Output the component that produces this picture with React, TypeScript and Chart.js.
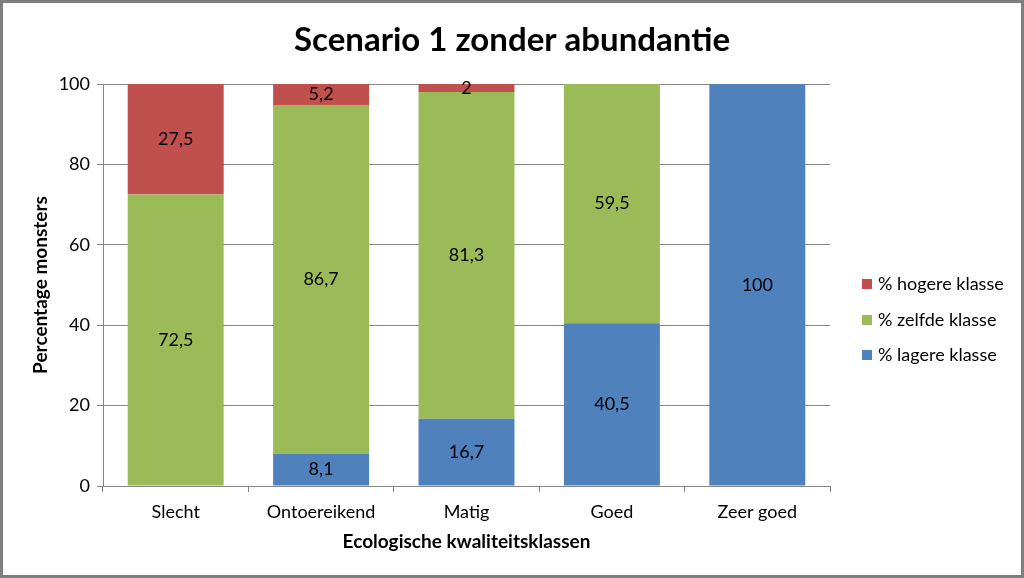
import React, { useEffect, useRef } from "react";
import { Chart, registerables } from "chart.js";

Chart.register(...registerables);

const TITLE = "Scenario 1 zonder abundantie";
const X_TITLE = "Ecologische kwaliteitsklassen";
const Y_TITLE = "Percentage monsters";
const categories = ["Slecht", "Ontoereikend", "Matig", "Goed", "Zeer goed"];
const lagere = [0, 8.1, 16.7, 40.5, 100];
const zelfde = [72.5, 86.7, 81.3, 59.5, 0];
const hogere = [27.5, 5.2, 2, 0, 0];
const seriesNames = ["% lagere klasse", "% zelfde klasse", "% hogere klasse"];
const seriesColors = ["#4F81BD", "#9BBB59", "#C0504D"];
const yTicks = [0, 20, 40, 60, 80, 100];

const FONT = "Lato, 'Open Sans', sans-serif";

const fmt = (v: number) => String(v).replace(".", ",");

const bgPlugin = {
  id: "bgBorder",
  beforeDraw(chart: any) {
    const { ctx, width, height } = chart;
    ctx.save();
    ctx.fillStyle = "#ffffff";
    ctx.fillRect(0, 0, width, height);
    ctx.restore();
  },
  afterDraw(chart: any) {
    const { ctx, width, height } = chart;
    ctx.save();
    ctx.strokeStyle = "#7f7f7f";
    ctx.lineWidth = 3;
    ctx.strokeRect(1.5, 1.5, width - 3, height - 3);
    ctx.fillStyle = "#000000";
    ctx.font = `bold 33px ${FONT}`;
    ctx.textAlign = "center";
    ctx.textBaseline = "middle";
    ctx.fillText(TITLE, width / 2, 40);
    ctx.restore();
  },
};

const labelPlugin = {
  id: "segLabels",
  afterDatasetsDraw(chart: any) {
    const { ctx } = chart;
    ctx.save();
    ctx.font = `18px ${FONT}`;
    ctx.fillStyle = "#000000";
    ctx.textAlign = "center";
    ctx.textBaseline = "middle";
    chart.data.datasets.forEach((ds: any, di: number) => {
      const meta = chart.getDatasetMeta(di);
      meta.data.forEach((bar: any, i: number) => {
        const v = ds.data[i];
        if (!v) return;
        const y = (bar.y + bar.base) / 2;
        ctx.fillText(fmt(v), bar.x, y);
      });
    });
    ctx.restore();
  },
};

const legendPlugin = {
  id: "customLegend",
  afterDraw(chart: any) {
    const { ctx } = chart;
    const x = 862;
    const ys = [284, 320, 355];
    ctx.save();
    ctx.font = `18px ${FONT}`;
    ctx.textBaseline = "middle";
    ctx.textAlign = "left";
    const order = [2, 1, 0];
    order.forEach((di, k) => {
      const ds = chart.data.datasets[di];
      ctx.fillStyle = ds.backgroundColor;
      ctx.fillRect(x, ys[k] - 5, 10, 10);
      ctx.fillStyle = "#000000";
      ctx.fillText(ds.label, x + 16, ys[k]);
    });
    ctx.restore();
  },
};

export default function App() {
  const ref = useRef<HTMLCanvasElement>(null);
  useEffect(() => {
    document.body.style.margin = "0";
    const chart = new Chart(ref.current!, {
      type: "bar",
      data: {
        labels: categories,
        datasets: [
          { label: seriesNames[0], data: lagere, backgroundColor: seriesColors[0] },
          { label: seriesNames[1], data: zelfde, backgroundColor: seriesColors[1] },
          { label: seriesNames[2], data: hogere, backgroundColor: seriesColors[2] },
        ],
      },
      options: {
        animation: false,
        responsive: false,
        maintainAspectRatio: false,
        datasets: { bar: { barPercentage: 0.66, categoryPercentage: 1 } } as any,
        layout: { padding: { left: 29, right: 194, top: 84, bottom: 0 } },
        plugins: {
          legend: { display: false },
          tooltip: { enabled: false },
          title: { display: false },
        },
        scales: {
          x: {
            stacked: true,
            afterFit: (s: any) => {
              s.height = 92;
            },
            grid: {
              offset: true,
              drawOnChartArea: false,
              drawTicks: true,
              tickLength: 6,
              color: "#868686",
            },
            border: { display: true, color: "#868686" },
            ticks: { color: "#000000", font: { family: FONT, size: 18 }, padding: 9 },
            title: {
              display: true,
              text: X_TITLE,
              color: "#000000",
              font: { family: FONT, size: 19, weight: "bold" },
              padding: { top: 8, bottom: 25 },
            },
          },
          y: {
            stacked: true,
            min: 0,
            max: 100,
            afterBuildTicks: (s: any) => {
              s.ticks = yTicks.map((v) => ({ value: v }));
            },
            afterFit: (s: any) => {
              s.width = 74;
            },
            grid: { color: "#868686", tickLength: 6, drawTicks: true },
            border: { display: true, color: "#868686" },
            ticks: { color: "#000000", font: { family: FONT, size: 18 }, padding: 7 },
            title: {
              display: true,
              text: Y_TITLE,
              color: "#000000",
              font: { family: FONT, size: 19, weight: "bold" },
              padding: { top: 0, bottom: 0 },
            },
          },
        },
      },
      plugins: [bgPlugin, labelPlugin, legendPlugin],
    });
    return () => chart.destroy();
  }, []);
  return (
    <div style={{ position: "absolute", left: 0, top: 0, width: 1024, height: 578 }}>
      <canvas ref={ref} width={1024} height={578} style={{ width: 1024, height: 578 }} />
    </div>
  );
}
